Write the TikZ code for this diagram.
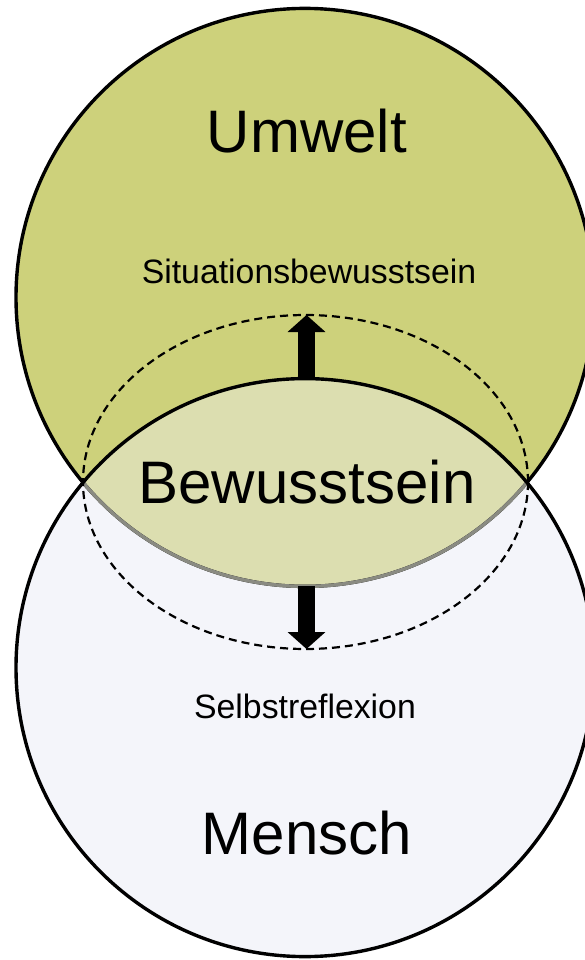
\documentclass[tikz,border=0pt]{standalone}
\usepackage{fontspec}
\setmainfont{Liberation Sans}
\usetikzlibrary{arrows.meta}
\definecolor{umweltgreen}{HTML}{CDD17B}
\definecolor{lensgreen}{HTML}{DCDEB0}
\definecolor{menschfill}{HTML}{F4F5FA}
\definecolor{lensedge}{HTML}{8A8B82}
\begin{document}
\begin{tikzpicture}[x=1pt,y=-1pt,
  ring/.style={line width=3.4pt},
  bigtext/.style={font=\fontsize{60}{72}\selectfont, anchor=base, inner sep=0pt},
  smalltext/.style={font=\fontsize{33.8}{40}\selectfont, anchor=base, inner sep=0pt},
  updown/.style={line width=17pt, -{Triangle[width=37pt,length=17pt]}},
  halo/.style={line width=2.2pt, dash pattern=on 8pt off 5pt}]
\useasboundingbox (0,0) rectangle (585,960);
\clip (0,0) rectangle (585,960);

% centres of the two circles
\coordinate (cu) at (305,297.4);
\coordinate (cm) at (305,667.6);

% fills
\fill[menschfill] (cm) circle[radius=289];
\fill[umweltgreen] (cu) circle[radius=289];
\begin{scope}
  \clip (cu) circle[radius=289];
  \fill[lensgreen] (cm) circle[radius=289];
\end{scope}

% outlines: Umwelt circle black, its lower arc inside Mensch greyed
\draw[ring] (cu) circle[radius=289];
\begin{scope}
  \clip (cm) circle[radius=289];
  \draw[ring, lensedge] (cu) circle[radius=289];
\end{scope}
\draw[ring] (cm) circle[radius=289];

% dashed halo of consciousness
\draw[halo] (305.5,482) ellipse[x radius=222.5, y radius=167];

% arrow end points
\coordinate (lensTop) at (306.5,378.6);
\coordinate (haloTop) at (306.5,315);
\coordinate (lensBottom) at (306.5,586.4);
\coordinate (haloBottom) at (306.5,649);

\draw[updown] (lensTop) -- (haloTop);
\draw[updown] (lensBottom) -- (haloBottom);

% labels
\node[bigtext] (umwelt) at (307,153) {Umwelt};
\node[smalltext] (situation) at (309,283) {Situationsbewusstsein};
\node[bigtext] (bewusst) at (307,503) {Bewusstsein};
\node[smalltext] (selbst) at (305,718) {Selbstreflexion};
\node[bigtext] (mensch) at (307,854) {Mensch};
\end{tikzpicture}
\end{document}
